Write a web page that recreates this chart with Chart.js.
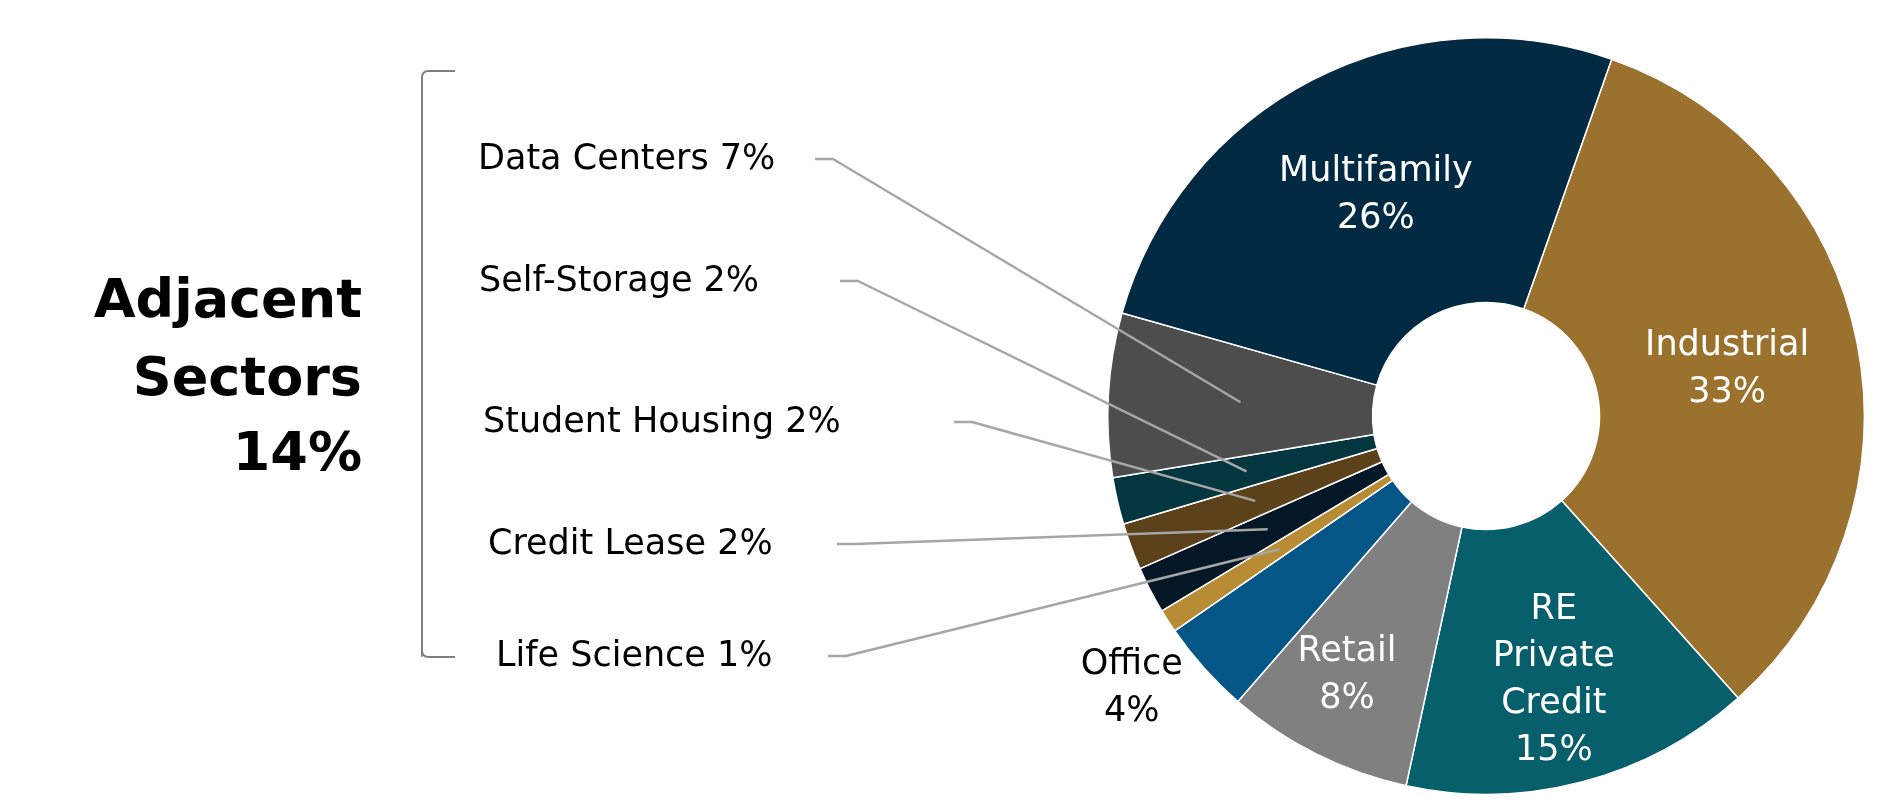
<!DOCTYPE html>
<html>
<head>
<meta charset="utf-8">
<script src="https://cdn.jsdelivr.net/npm/chart.js@4"></script>
<style>
  html, body { margin: 0; padding: 0; background: #fff; }
  #wrap { position: relative; width: 1888px; height: 803px; }
</style>
</head>
<body>
<div id="wrap"><canvas id="sectorChart"></canvas></div>
<script>
// slices in drawing order, clockwise from the Industrial edge
const sectors = ['Industrial', 'RE Private Credit', 'Retail', 'Office', 'Life Science',
                 'Credit Lease', 'Student Housing', 'Self-Storage', 'Data Centers', 'Multifamily'];
const shares = [33, 15, 8, 4, 1, 2, 2, 2, 7, 26];
const sliceLabels = [['Industrial', '33%'], ['RE', 'Private', 'Credit', '15%'], ['Retail', '8%'], ['Office', '4%'],
                     null, null, null, null, null, ['Multifamily', '26%']];
const sideLabels = ['Data Centers 7%', 'Self-Storage 2%', 'Student Housing 2%', 'Credit Lease 2%', 'Life Science 1%'];
const sideSectors = ['Data Centers', 'Self-Storage', 'Student Housing', 'Credit Lease', 'Life Science'];
const groupTitle = ['Adjacent', 'Sectors', '14%'];

const colors = ['#9b722d', '#075f6c', '#808080', '#035685', '#b88c35',
                '#031726', '#5c421a', '#043640', '#4d4d4d', '#032a43'];

// layout only
const labelShift = [[0, 1], [5, 27], [-29, 40], [-171, 109], null, null, null, null, null, [3, -2]];
const labelColor = ['#fff', '#fff', '#fff', '#000', null, null, null, null, null, '#fff'];
const sideX = [478, 479, 483, 488, 496];
const sideY = [160, 282, 423, 545, 657];
const leaderX = [815, 840, 954, 837, 828];

const labelFont = '35px "DejaVu Sans"';

const annotate = {
    id: 'annotate',
    afterDatasetsDraw(chart) {
        const ctx = chart.ctx;
        const arcs = chart.getDatasetMeta(0).data;
        ctx.save();

        // text inside / next to the big slices
        ctx.font = labelFont;
        ctx.textAlign = 'center';
        ctx.textBaseline = 'middle';
        sliceLabels.forEach((lines, i) => {
            if (!lines) return;
            const p = arcs[i].tooltipPosition();
            const cx = p.x + labelShift[i][0];
            const cy = p.y + labelShift[i][1];
            const lh = 47;
            ctx.fillStyle = labelColor[i];
            lines.forEach((t, k) => {
                ctx.fillText(t, cx, cy + (k - (lines.length - 1) / 2) * lh);
            });
        });

        // leader lines for the small slices
        ctx.strokeStyle = '#a6a6a6';
        ctx.lineWidth = 2.5;
        ctx.lineJoin = 'round';
        sideSectors.forEach((name, i) => {
            const p = arcs[sectors.indexOf(name)].tooltipPosition();
            ctx.beginPath();
            ctx.moveTo(leaderX[i], sideY[i] - 1);
            ctx.lineTo(leaderX[i] + 18, sideY[i] - 1);
            ctx.lineTo(p.x, p.y);
            ctx.stroke();
        });

        ctx.fillStyle = '#000';
        ctx.textAlign = 'left';
        sideLabels.forEach((t, i) => {
            ctx.fillText(t, sideX[i], sideY[i]);
        });

        // bracket
        ctx.strokeStyle = '#7f7f7f';
        ctx.lineWidth = 2;
        ctx.beginPath();
        ctx.moveTo(455, 71);
        ctx.arcTo(422, 71, 422, 100, 6);
        ctx.lineTo(422, 656);
        ctx.arcTo(422, 657, 455, 657, 6);
        ctx.lineTo(455, 657);
        ctx.stroke();

        // group title
        ctx.font = 'bold 54px "DejaVu Sans"';
        ctx.textAlign = 'right';
        ctx.fillStyle = '#000';
        const titleY = [303, 381, 456];
        groupTitle.forEach((t, k) => ctx.fillText(t, 362, titleY[k]));

        ctx.restore();
    }
};

document.addEventListener('DOMContentLoaded', function() {
    const el = document.getElementById('sectorChart').getContext('2d');
    new Chart(el, {
        type: 'doughnut',
        data: {
            labels: sectors,
            datasets: [{
                data: shares,
                backgroundColor: colors,
                borderColor: '#ffffff',
                borderWidth: 1.5
            }]
        },
        options: {
            responsive: true,
            maintainAspectRatio: false,
            animation: false,
            rotation: 19.4,
            cutout: '30%',
            layout: { padding: { left: 1107, right: 23, top: 37, bottom: 8 } },
            plugins: {
                legend: { display: false },
                tooltip: { enabled: false }
            }
        },
        plugins: [annotate]
    });
});
</script>
</body>
</html>
